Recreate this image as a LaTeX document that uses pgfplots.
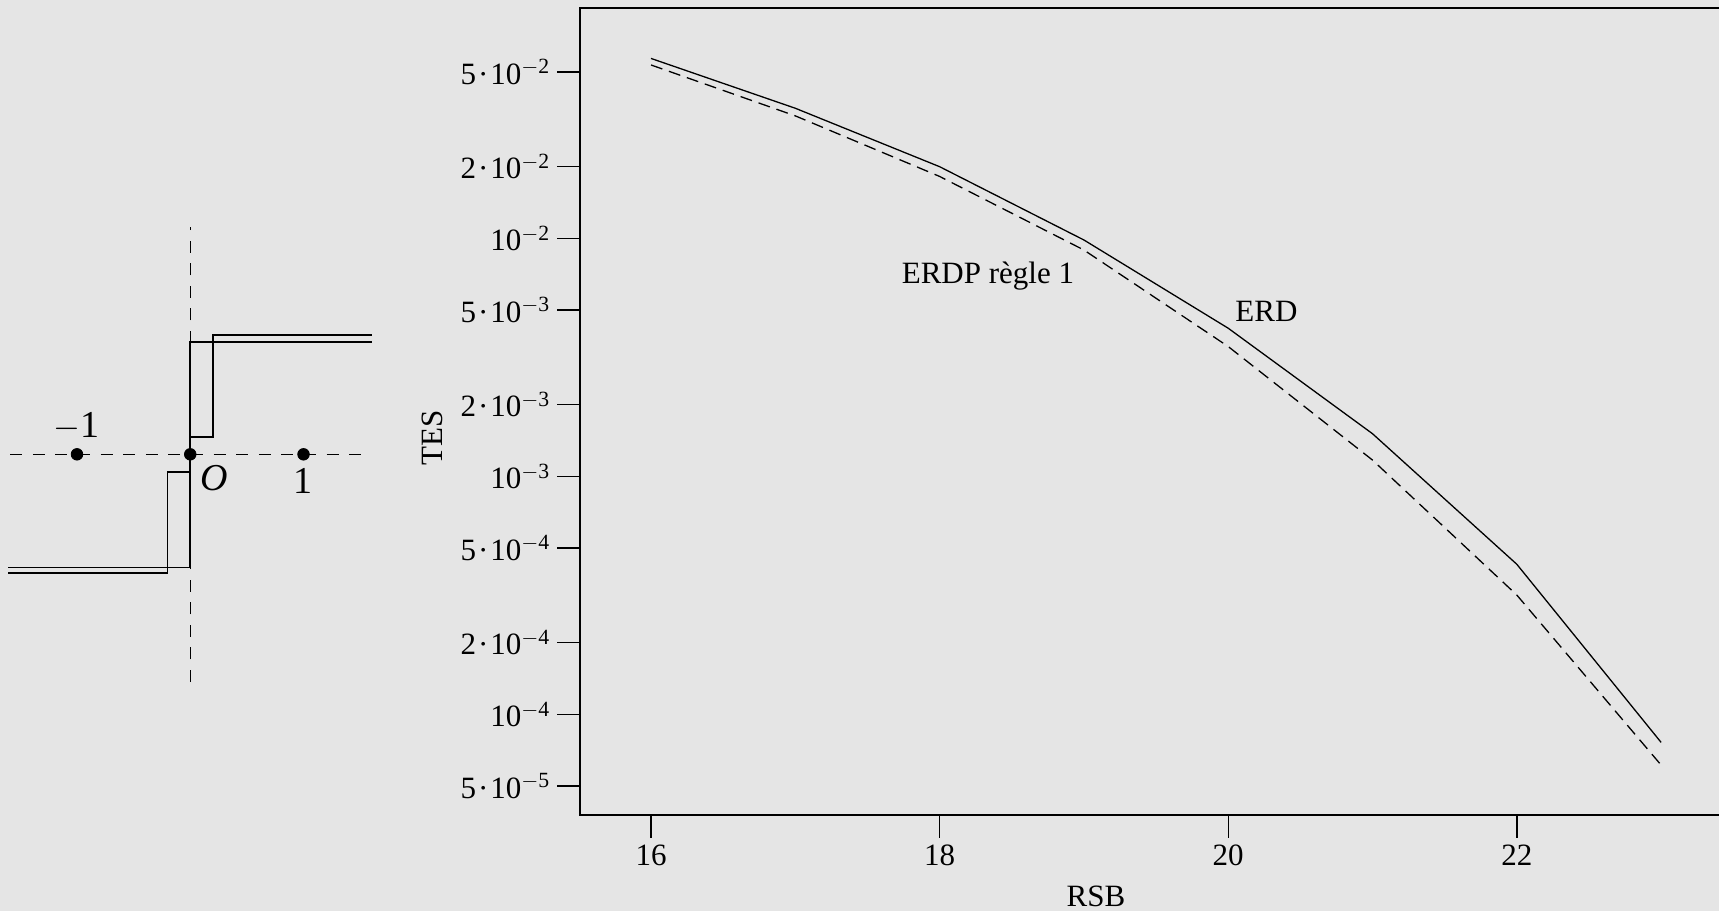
\documentclass[border=0pt]{standalone}
\usepackage{fontspec}
\setmainfont{Liberation Serif}
\usepackage{pgfplots}
\usepackage{pgfplotstable}
\pgfplotsset{compat=1.18}
\definecolor{panelbg}{RGB}{229,229,229}

% TES versus RSB for the two receivers
\pgfplotstableread{
rsb  erd      erdp
16   0.0570   0.0535
17   0.0352   0.0327
18   0.0200   0.0182
19   0.00984  0.00893
20   0.00419  0.00351
21   0.00151  0.00117
22   4.27e-4  3.17e-4
23   7.62e-5  6.12e-5
}\tesdata

% decision thresholds: hard staircase and the one with an erasure zone
\pgfplotstableread{
x       y
-1.606  -1.0
0       -1.0
0       0.994
1.606   0.994
}\stepA
\pgfplotstableread{
x       y
-1.606  -1.05
-0.2    -1.05
-0.2    -0.153
0       -0.153
0       0.15
0.2     0.15
0.2     1.05
1.606   1.05
}\stepB

% tick label helpers: mantissa times power of ten
\newcommand{\pten}[1]{10\textsuperscript{$-$#1}}
\newcommand{\mten}[2]{#1\kern1pt·\kern1pt\pten{#2}}

\begin{document}
\begin{tikzpicture}[font=\fontsize{15.5}{18}\selectfont]
\fill[panelbg] (0,0) rectangle (859.5pt,-455.5pt);

% constellation sketch
\begin{axis}[
  at={(1.6775pt,-343.3pt)}, anchor=south west,
  scale only axis, width=186.9pt, height=232.3pt,
  xmin=-1.65, xmax=1.65, ymin=-2.05, ymax=2.05,
  axis lines=none, clip=false,
]
\addplot[black, line width=0.7pt, dash pattern=on 6pt off 5.3pt] coordinates {(-1.59,0) (1.60,0)};
\addplot[black, line width=0.7pt, dash pattern=on 6pt off 5.3pt] coordinates {(0,-2.01) (0,2.01)};
\addplot[black, line width=0.85pt] table[x=x,y=y]{\stepA};
\addplot[black, line width=0.85pt] table[x=x,y=y]{\stepB};
\addplot[only marks, mark=*, mark size=2.9pt, black] coordinates {(-1,0) (0,0) (1,0)};
\node[font=\fontsize{19}{22}\selectfont, anchor=base] at (axis cs:-1.006,0.144) {$-$1};
\node[font=\fontsize{19}{22}\selectfont, anchor=base] at (axis cs:0.211,-0.315) {\textit{O}};
\node[font=\fontsize{19}{22}\selectfont, anchor=base] at (axis cs:0.997,-0.344) {1};
\end{axis}

% error rate curves
\begin{axis}[
  at={(290.15pt,-4.15pt)}, anchor=north west,
  scale only axis, width=570.85pt, height=403.35pt,
  xmin=15.51, xmax=23.422,
  ymode=log, ymin=3.774e-5, ymax=0.09256,
  xtick={16,18,20,22}, xticklabels={16,18,20,22},
  ytick={5e-5,1e-4,2e-4,5e-4,1e-3,2e-3,5e-3,1e-2,2e-2,5e-2},
  yticklabels={\mten{5}{5},\pten{4},\mten{2}{4},\mten{5}{4},\pten{3},\mten{2}{3},\mten{5}{3},\pten{2},\mten{2}{2},\mten{5}{2}},
  xminorticks=false, yminorticks=false,
  xtick pos=bottom, ytick pos=left,
  tick align=outside, major tick length=11.5pt,
  tick style={black, line width=0.7pt},
  axis line style={black, line width=0.85pt},
  /pgf/number format/assume math mode=true,
  xlabel={RSB}, ylabel={TES},
  every axis x label/.style={at={(axis description cs:0.4517,-0.114)}, anchor=base},
  every axis y label/.style={at={(axis description cs:-0.1295,0.467)}, rotate=90, anchor=center},
]
\addplot[black, line width=0.65pt] table[x=rsb,y=erd]{\tesdata};
\addplot[black, line width=0.65pt, dash pattern=on 6pt off 3.5pt] table[x=rsb,y=erdp]{\tesdata};
\node[anchor=base] at (axis cs:18.335,6.47e-3) {ERDP règle 1};
\node[anchor=base] at (axis cs:20.265,4.49e-3) {ERD};
\end{axis}

\pgfresetboundingbox
\useasboundingbox (0,0) rectangle (859.5pt,-455.5pt);
\end{tikzpicture}
\end{document}
